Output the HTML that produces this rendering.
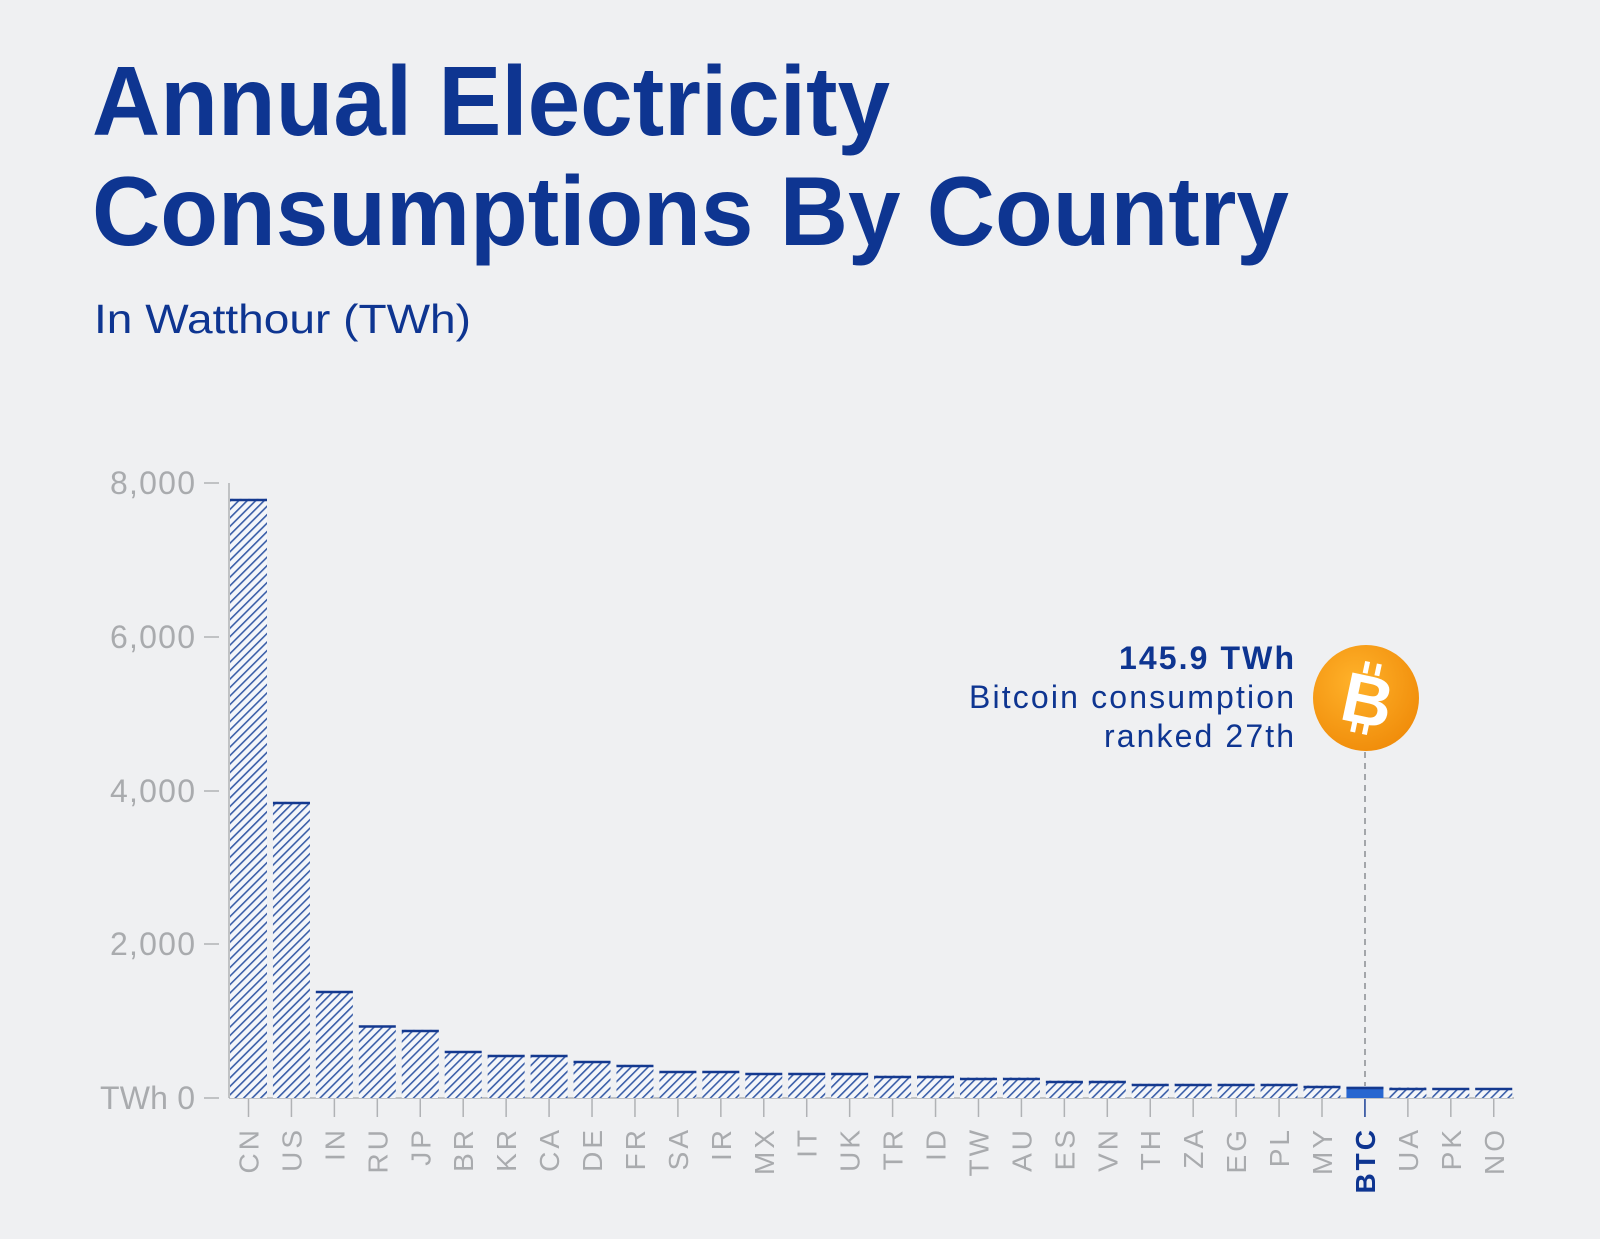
<!DOCTYPE html>
<html><head><meta charset="utf-8"><style>
html,body{margin:0;padding:0;background:#eff0f2;}
svg{display:block;}
</style></head><body>
<svg width="1600" height="1239" viewBox="0 0 1600 1239" xmlns="http://www.w3.org/2000/svg" font-family="Liberation Sans, sans-serif">
<defs>
<pattern id="h" patternUnits="userSpaceOnUse" width="6" height="6" patternTransform="rotate(45)">
<rect width="6" height="6" fill="#f4f6fa"/>
<rect x="0" y="0" width="1.6" height="6" fill="#3a5ea8"/>
</pattern>
<radialGradient id="g" cx="0.4" cy="0.35" r="0.7">
<stop offset="0" stop-color="#ffb22a"/><stop offset="1" stop-color="#f08c0a"/>
</radialGradient>
</defs>
<rect width="1600" height="1239" fill="#eff0f2"/>
<text x="92" y="135" font-size="98" font-weight="bold" fill="#0e3591" textLength="798" lengthAdjust="spacingAndGlyphs">Annual Electricity</text>
<text x="92" y="245" font-size="98" font-weight="bold" fill="#0e3591" textLength="1197" lengthAdjust="spacingAndGlyphs">Consumptions By Country</text>
<text x="94" y="333" font-size="41" fill="#0e3591" textLength="377" lengthAdjust="spacingAndGlyphs">In Watthour (TWh)</text>
<g font-size="32" fill="#a9abae" text-anchor="end">
<text x="195" y="494" textLength="85">8,000</text><text x="195" y="648" textLength="85">6,000</text>
<text x="195" y="802" textLength="85">4,000</text><text x="195" y="955" textLength="85">2,000</text>
<text x="195" y="1109" textLength="95">TWh 0</text>
</g>
<g stroke="#b0b2b5" stroke-width="1.5">
<line x1="204" y1="483" x2="219" y2="483"/><line x1="204" y1="637" x2="219" y2="637"/>
<line x1="204" y1="791" x2="219" y2="791"/><line x1="204" y1="944" x2="219" y2="944"/>
<line x1="204" y1="1098" x2="219" y2="1098"/>
<line x1="229" y1="483" x2="229" y2="1098"/>
<line x1="229" y1="1098" x2="1514" y2="1098"/>
</g>
<line x1="1365" y1="752" x2="1365" y2="1086" stroke="#8a8d92" stroke-width="1.5" stroke-dasharray="6,5"/>
<g fill="url(#h)">
<rect x="230" y="498.9" width="37" height="599.1"/>
<rect x="272.94" y="801.9" width="37" height="296.1"/>
<rect x="315.88" y="991.1" width="37" height="106.9"/>
<rect x="358.82" y="1025.5" width="37" height="72.5"/>
<rect x="401.76" y="1029.9" width="37" height="68.1"/>
<rect x="444.7" y="1051.1" width="37" height="46.9"/>
<rect x="487.64" y="1054.9" width="37" height="43.1"/>
<rect x="530.58" y="1054.9" width="37" height="43.1"/>
<rect x="573.52" y="1061.1" width="37" height="36.9"/>
<rect x="616.46" y="1064.9" width="37" height="33.1"/>
<rect x="659.4" y="1071.1" width="37" height="26.9"/>
<rect x="702.34" y="1071.1" width="37" height="26.9"/>
<rect x="745.28" y="1073" width="37" height="25"/>
<rect x="788.22" y="1073" width="37" height="25"/>
<rect x="831.16" y="1073" width="37" height="25"/>
<rect x="874.1" y="1075.7" width="37" height="22.3"/>
<rect x="917.04" y="1075.7" width="37" height="22.3"/>
<rect x="959.98" y="1077.6" width="37" height="20.4"/>
<rect x="1002.92" y="1077.6" width="37" height="20.4"/>
<rect x="1045.86" y="1080.7" width="37" height="17.3"/>
<rect x="1088.8" y="1080.7" width="37" height="17.3"/>
<rect x="1131.74" y="1083.8" width="37" height="14.2"/>
<rect x="1174.68" y="1083.8" width="37" height="14.2"/>
<rect x="1217.62" y="1083.8" width="37" height="14.2"/>
<rect x="1260.56" y="1083.8" width="37" height="14.2"/>
<rect x="1303.5" y="1085.7" width="37" height="12.3"/>
<rect x="1346.44" y="1086.8" width="37" height="11.2" fill="#2766d0"/>
<rect x="1389.38" y="1087.6" width="37" height="10.4"/>
<rect x="1432.32" y="1088" width="37" height="10"/>
<rect x="1475.26" y="1088" width="37" height="10"/>
</g>
<g stroke="#14398f" stroke-width="2.5">
<line x1="230" y1="500" x2="267" y2="500"/>
<line x1="272.94" y1="803" x2="309.94" y2="803"/>
<line x1="315.88" y1="992" x2="352.88" y2="992"/>
<line x1="358.82" y1="1026.5" x2="395.82" y2="1026.5"/>
<line x1="401.76" y1="1031" x2="438.76" y2="1031"/>
<line x1="444.7" y1="1052" x2="481.7" y2="1052"/>
<line x1="487.64" y1="1056" x2="524.64" y2="1056"/>
<line x1="530.58" y1="1056" x2="567.58" y2="1056"/>
<line x1="573.52" y1="1062" x2="610.52" y2="1062"/>
<line x1="616.46" y1="1066" x2="653.46" y2="1066"/>
<line x1="659.4" y1="1072" x2="696.4" y2="1072"/>
<line x1="702.34" y1="1072" x2="739.34" y2="1072"/>
<line x1="745.28" y1="1074" x2="782.28" y2="1074"/>
<line x1="788.22" y1="1074" x2="825.22" y2="1074"/>
<line x1="831.16" y1="1074" x2="868.16" y2="1074"/>
<line x1="874.1" y1="1077" x2="911.1" y2="1077"/>
<line x1="917.04" y1="1077" x2="954.04" y2="1077"/>
<line x1="959.98" y1="1079" x2="996.98" y2="1079"/>
<line x1="1002.92" y1="1079" x2="1039.92" y2="1079"/>
<line x1="1045.86" y1="1082" x2="1082.86" y2="1082"/>
<line x1="1088.8" y1="1082" x2="1125.8" y2="1082"/>
<line x1="1131.74" y1="1085" x2="1168.74" y2="1085"/>
<line x1="1174.68" y1="1085" x2="1211.68" y2="1085"/>
<line x1="1217.62" y1="1085" x2="1254.62" y2="1085"/>
<line x1="1260.56" y1="1085" x2="1297.56" y2="1085"/>
<line x1="1303.5" y1="1087" x2="1340.5" y2="1087"/>
<line x1="1346.44" y1="1088" x2="1383.44" y2="1088"/>
<line x1="1389.38" y1="1089" x2="1426.38" y2="1089"/>
<line x1="1432.32" y1="1089" x2="1469.32" y2="1089"/>
<line x1="1475.26" y1="1089" x2="1512.26" y2="1089"/>
</g>
<g stroke="#b0b2b5" stroke-width="1.5">
<line x1="248.5" y1="1099" x2="248.5" y2="1117"/><line x1="291.44" y1="1099" x2="291.44" y2="1117"/>
<line x1="334.38" y1="1099" x2="334.38" y2="1117"/><line x1="377.32" y1="1099" x2="377.32" y2="1117"/>
<line x1="420.26" y1="1099" x2="420.26" y2="1117"/><line x1="463.2" y1="1099" x2="463.2" y2="1117"/>
<line x1="506.14" y1="1099" x2="506.14" y2="1117"/><line x1="549.08" y1="1099" x2="549.08" y2="1117"/>
<line x1="592.02" y1="1099" x2="592.02" y2="1117"/><line x1="634.96" y1="1099" x2="634.96" y2="1117"/>
<line x1="677.9" y1="1099" x2="677.9" y2="1117"/><line x1="720.84" y1="1099" x2="720.84" y2="1117"/>
<line x1="763.78" y1="1099" x2="763.78" y2="1117"/><line x1="806.72" y1="1099" x2="806.72" y2="1117"/>
<line x1="849.66" y1="1099" x2="849.66" y2="1117"/><line x1="892.6" y1="1099" x2="892.6" y2="1117"/>
<line x1="935.54" y1="1099" x2="935.54" y2="1117"/><line x1="978.48" y1="1099" x2="978.48" y2="1117"/>
<line x1="1021.42" y1="1099" x2="1021.42" y2="1117"/><line x1="1064.36" y1="1099" x2="1064.36" y2="1117"/>
<line x1="1107.3" y1="1099" x2="1107.3" y2="1117"/><line x1="1150.24" y1="1099" x2="1150.24" y2="1117"/>
<line x1="1193.18" y1="1099" x2="1193.18" y2="1117"/><line x1="1236.12" y1="1099" x2="1236.12" y2="1117"/>
<line x1="1279.06" y1="1099" x2="1279.06" y2="1117"/><line x1="1322" y1="1099" x2="1322" y2="1117"/>
<line x1="1364.94" y1="1099" x2="1364.94" y2="1117" stroke="#1a3f96"/><line x1="1407.88" y1="1099" x2="1407.88" y2="1117"/>
<line x1="1450.82" y1="1099" x2="1450.82" y2="1117"/><line x1="1493.76" y1="1099" x2="1493.76" y2="1117"/>
</g>
<g font-size="28" letter-spacing="3" fill="#a9abae" text-anchor="end">
<text transform="translate(258.5,1127) rotate(-90)">CN</text>
<text transform="translate(301.44,1127) rotate(-90)">US</text>
<text transform="translate(344.38,1127) rotate(-90)">IN</text>
<text transform="translate(387.32,1127) rotate(-90)">RU</text>
<text transform="translate(430.26,1127) rotate(-90)">JP</text>
<text transform="translate(473.2,1127) rotate(-90)">BR</text>
<text transform="translate(516.14,1127) rotate(-90)">KR</text>
<text transform="translate(559.08,1127) rotate(-90)">CA</text>
<text transform="translate(602.02,1127) rotate(-90)">DE</text>
<text transform="translate(644.96,1127) rotate(-90)">FR</text>
<text transform="translate(687.9,1127) rotate(-90)">SA</text>
<text transform="translate(730.84,1127) rotate(-90)">IR</text>
<text transform="translate(773.78,1127) rotate(-90)">MX</text>
<text transform="translate(816.72,1127) rotate(-90)">IT</text>
<text transform="translate(859.66,1127) rotate(-90)">UK</text>
<text transform="translate(902.6,1127) rotate(-90)">TR</text>
<text transform="translate(945.54,1127) rotate(-90)">ID</text>
<text transform="translate(988.48,1127) rotate(-90)">TW</text>
<text transform="translate(1031.42,1127) rotate(-90)">AU</text>
<text transform="translate(1074.36,1127) rotate(-90)">ES</text>
<text transform="translate(1117.3,1127) rotate(-90)">VN</text>
<text transform="translate(1160.24,1127) rotate(-90)">TH</text>
<text transform="translate(1203.18,1127) rotate(-90)">ZA</text>
<text transform="translate(1246.12,1127) rotate(-90)">EG</text>
<text transform="translate(1289.06,1127) rotate(-90)">PL</text>
<text transform="translate(1332,1127) rotate(-90)">MY</text>
<text transform="translate(1374.94,1127) rotate(-90)" fill="#0e3591" font-weight="bold">BTC</text>
<text transform="translate(1417.88,1127) rotate(-90)">UA</text>
<text transform="translate(1460.82,1127) rotate(-90)">PK</text>
<text transform="translate(1503.76,1127) rotate(-90)">NO</text>
</g>
<circle cx="1366" cy="698" r="53" fill="url(#g)"/>
<g transform="rotate(12 1366 698)">
<text x="1368" y="724" font-size="70" font-weight="bold" fill="#fff" text-anchor="middle">B</text>
<g stroke="#fff" stroke-width="5"><line x1="1360" y1="662" x2="1360" y2="674"/><line x1="1372" y1="662" x2="1372" y2="674"/><line x1="1360" y1="722" x2="1360" y2="734"/><line x1="1372" y1="722" x2="1372" y2="734"/></g>
</g>
<g text-anchor="end" fill="#0e3591" font-size="32">
<text x="1294" y="669" font-weight="bold" textLength="175">145.9 TWh</text>
<text x="1294" y="708" textLength="325">Bitcoin consumption</text>
<text x="1294" y="747" textLength="190">ranked 27th</text>
</g>
</svg>
</body></html>
